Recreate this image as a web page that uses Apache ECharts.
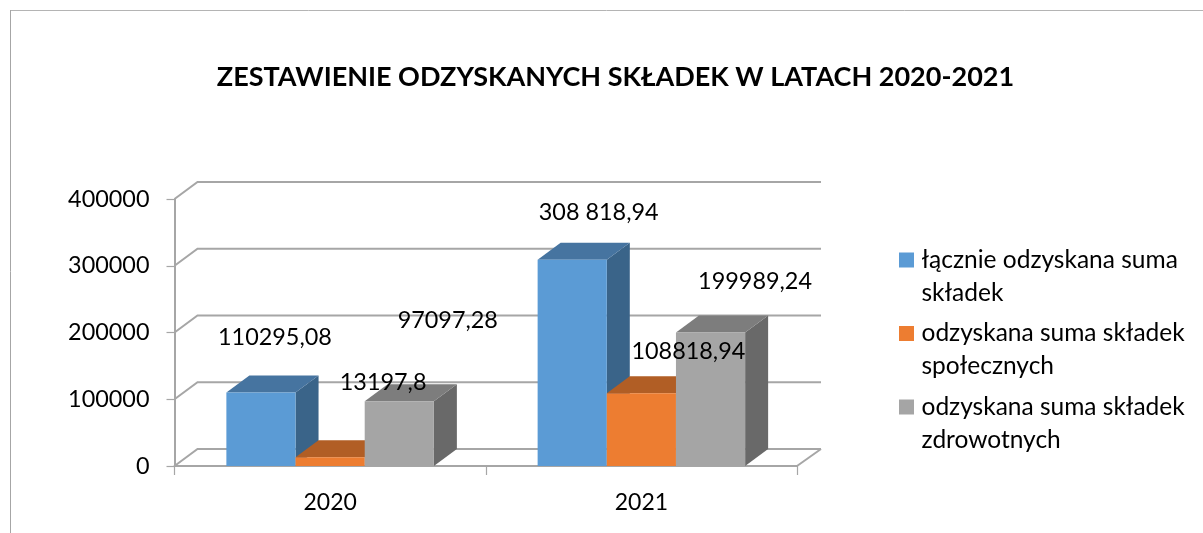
<!DOCTYPE html>
<html>
<head>
<meta charset="utf-8">
<style>html,body{margin:0;padding:0;background:#fff}#c{width:1203px;height:533px}</style>
<script src="https://cdn.jsdelivr.net/npm/echarts@6/dist/echarts.min.js"></script>
</head>
<body>
<div id="c"></div>
<script>
const titleText = 'ZESTAWIENIE ODZYSKANYCH SKŁADEK W LATACH 2020-2021';
const categories = ['2020', '2021'];
const yTicks = [0, 100000, 200000, 300000, 400000];
const seriesNames = [
  'łącznie odzyskana suma\nskładek',
  'odzyskana suma składek\nspołecznych',
  'odzyskana suma składek\nzdrowotnych'
];
const totalValues = [110295.08, 308818.94];
const socialValues = [13197.8, 108818.94];
const healthValues = [97097.28, 199989.24];
const totalLabels = ['110295,08', '308 818,94'];
const socialLabels = ['13197,8', '108818,94'];
const healthLabels = ['97097,28', '199989,24'];
const colors = ['#5B9BD5', '#ED7D31', '#A5A5A5'];
const topColors = ['#4674A0', '#B15E25', '#7D7D7D'];
const sideColors = ['#3A6489', '#B15E25', '#696969'];
// label displacement from the top centre of each bar's front face
const totalOffsets = [[14, -54.7], [26.5, -47]];
const socialOffsets = [[53, -75], [47, -42]];
const healthOffsets = [[48.5, -81], [44.5, -50.6]];

const DX = 23, DY = 17, FONT = 'Lato, sans-serif', LINE = '#a6a6a6';

function barSeries(idx, values, labels, offsets) {
  return {
    type: 'custom',
    name: seriesNames[idx],
    itemStyle: {color: colors[idx]},
    data: values.map((v, i) => [i, v]),
    encode: {x: 0, y: 1},
    clip: false,
    renderItem(params, api) {
      const i = api.value(0);
      const top = api.coord([i, api.value(1)]);
      const base = api.coord([i, 0]);
      const w = api.size([1, 0])[0] / 4.5;
      const cx = top[0] + (idx - 1) * w;
      const l = cx - w / 2, r = cx + w / 2, t = top[1], b = base[1];
      const off = offsets[i];
      return {type: 'group', children: [
        {type: 'polygon', shape: {points: [[r, t], [r + DX, t - DY], [r + DX, b - DY], [r, b]]}, style: {fill: sideColors[idx]}},
        {type: 'polygon', shape: {points: [[l, t], [l + DX, t - DY], [r + DX, t - DY], [r, t]]}, style: {fill: topColors[idx]}},
        {type: 'rect', shape: {x: l, y: t, width: w, height: b - t}, style: {fill: colors[idx]}},
        {type: 'text', z2: 100, style: {text: labels[i], x: cx + off[0], y: t + off[1], align: 'center', verticalAlign: 'middle', fontFamily: FONT, fontSize: 23.4, fill: '#000'}}
      ]};
    }
  };
}

const wallSeries = {
  type: 'custom',
  silent: true,
  data: yTicks.map(v => [0, v]),
  encode: {x: 0, y: 1},
  clip: false,
  renderItem(params, api) {
    const y = api.coord([0, api.value(1)])[1];
    const x0 = params.coordSys.x, x1 = x0 + params.coordSys.width;
    const children = [{type: 'polyline', shape: {points: [[x0, y], [x0 + DX, y - DY], [x1 + DX + 1, y - DY]]}, style: {fill: null, stroke: LINE, lineWidth: 2}}];
    if (api.value(1) === 0) {
      children.push({type: 'line', shape: {x1: x1, y1: y, x2: x1 + DX + 1, y2: y - DY}, style: {stroke: LINE, lineWidth: 2}});
    }
    return {type: 'group', children};
  }
};

const chart = echarts.init(document.getElementById('c'), null, {renderer: 'canvas'});
chart.setOption({
  animation: false,
  backgroundColor: '#fff',
  title: {
    text: titleText, left: 610.5, top: 59, textAlign: 'center',
    textStyle: {fontFamily: FONT, fontSize: 27, fontWeight: 'bold', color: '#000'}
  },
  grid: {left: 174.5, right: 406, top: 199, bottom: 67},
  legend: {
    orient: 'vertical', left: 899, top: 210.5, padding: 0, itemWidth: 15, itemHeight: 15, itemGap: -25.5,
    icon: 'rect', selectedMode: false, data: seriesNames,
    formatter: name => '\n' + name,
    textStyle: {fontFamily: FONT, fontSize: 24.5, lineHeight: 33, color: '#000', padding: [0, 0, 0, 2.5]}
  },
  xAxis: {
    type: 'category', data: categories,
    axisLine: {show: true, lineStyle: {color: LINE, width: 2}},
    axisTick: {show: true, alignWithLabel: false, length: 9, lineStyle: {color: LINE, width: 1.2}},
    axisLabel: {fontFamily: FONT, fontSize: 23, color: '#000', margin: 25},
    splitLine: {show: false}
  },
  yAxis: {
    type: 'value', min: 0, max: 400000, interval: 100000,
    axisLine: {show: true, lineStyle: {color: LINE, width: 2}},
    axisTick: {show: true, length: 8, lineStyle: {color: LINE, width: 1.2}},
    axisLabel: {fontFamily: FONT, fontSize: 23.4, color: '#000', margin: 25, formatter: v => String(v)},
    splitLine: {show: false}
  },
  graphic: [
    {type: 'line', silent: true, shape: {x1: 10, y1: 10.5, x2: 1203, y2: 10.5}, style: {stroke: '#b4b4b4', lineWidth: 1}},
    {type: 'line', silent: true, shape: {x1: 10.5, y1: 10, x2: 10.5, y2: 533}, style: {stroke: '#a6a6a6', lineWidth: 1}}
  ],
  series: [
    wallSeries,
    barSeries(0, totalValues, totalLabels, totalOffsets),
    barSeries(1, socialValues, socialLabels, socialOffsets),
    barSeries(2, healthValues, healthLabels, healthOffsets)
  ]
});
</script>
</body>
</html>
